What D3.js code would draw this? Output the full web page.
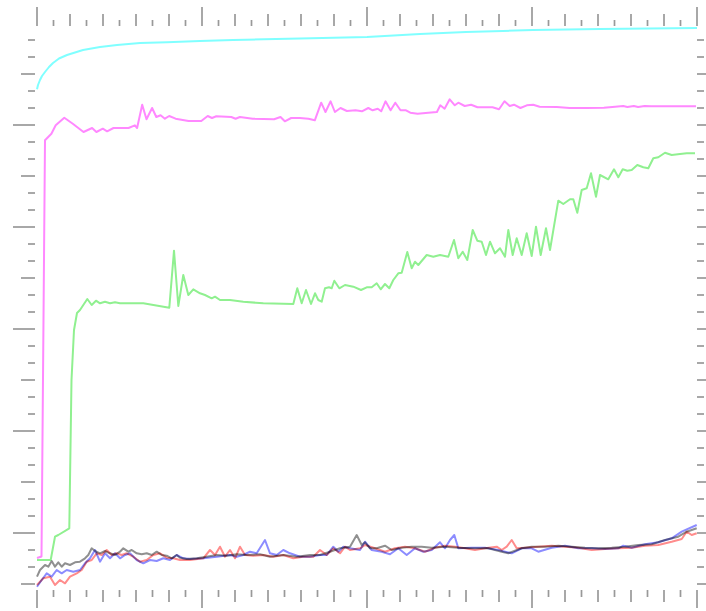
<!DOCTYPE html>
<html>
<head>
<meta charset="utf-8">
<script src="https://cdn.jsdelivr.net/npm/d3@7"></script>
<style>
  body { margin: 0; background: #fff; }
  .series { fill: none; stroke-width: 2; stroke-linejoin: round; mix-blend-mode: multiply; }
  .tick { stroke: #999; stroke-width: 1.7; }
</style>
</head>
<body>
<div id="chart"></div>
<script>
// values as [step, level] pairs
const cyan = [[0,500.7],[1,505],[3,510],[5,514],[8,518],[12,523],[16,527],[22,531.5],[30,535],[46,540],[63,543],[80,545],[103,547],[130,547.7],[163,549],[196,550],[263,551.5],[330,553],[383,556],[429,558],[496,560],[563,561],[660,562]];

const magenta = [[0,32],[4.5,33.5],[8,449.7],[14.4,456.3],[18.7,464.7],[27.3,472.3],[35.8,466.3],[46.5,458],[55.1,462],[59.4,458],[65.8,461.3],[70.1,458.7],[76.5,462],[91.5,462],[97.9,464.7],[100.1,462],[105.2,485.3],[109.5,470.7],[115.1,482],[119.3,473],[123.6,474.7],[127.9,471.3],[132.2,474],[138.6,471.3],[151.5,469],[164.3,469],[170.7,474],[175,472],[179.3,473.7],[194.3,473],[198.6,471.3],[202.9,473],[215.7,471.3],[237.1,470.7],[243.5,473],[247.8,468.7],[254.2,472],[262.8,472],[271.4,471.3],[277.8,469.7],[284.2,487.3],[288.5,478],[293.6,488.7],[297.9,478],[303.5,482],[309.9,479],[318.5,479.7],[324.9,478.7],[331.3,482],[335.6,479.7],[340.8,481.3],[344.2,478.7],[348.5,488.7],[353.6,479.7],[358.3,487.3],[363.5,479.7],[369,479.7],[373.3,477.3],[380.6,476.3],[391.3,477.3],[399.9,478],[403.3,484.7],[407.6,481.3],[412.7,490.7],[417.8,484.7],[421.3,487.3],[427.7,484],[434.1,485.3],[440.5,482.7],[455.5,482.7],[462,480.7],[467.5,488.7],[472.7,484],[477,485.3],[483.4,482],[489.8,484.7],[496.2,485.3],[502.6,483.3],[519.8,483],[532.6,482],[549.7,482],[566.9,482.3],[575.4,483],[586.2,484],[590.4,483],[596.8,484],[601.1,483],[607.6,484],[614,483.7],[635.4,483.7],[659,483.7]];

const green = [[0,30],[13.7,30],[18,53.3],[21.3,55],[32.3,61.7],[34.5,210],[37,260],[40,277],[43,280],[50.3,291],[54.7,285],[59,289.3],[63,286.7],[68,288.3],[73,286.7],[78,287.7],[83,286.7],[106.3,286.7],[132.3,282.3],[137,339.3],[141.3,284],[146.3,315],[151.3,295],[156.3,300.7],[163,296.7],[168,295],[174.7,291.7],[178,293.3],[183,290],[193,290],[206.3,288.3],[226.3,286.7],[256.3,286],[260.3,301.7],[264.7,286.7],[269,300],[274,286],[278,296.7],[281.3,290],[284.7,288.3],[288,301.7],[292,302.7],[294.7,301.7],[297.3,309.3],[302.3,301.7],[308,305],[316.3,303.3],[324,300],[329.7,302.7],[334.7,302.7],[339.7,306.7],[343.7,300.7],[348,306],[352.3,301.7],[356.3,310],[361.3,316.7],[364.7,317.3],[370.3,338],[374.7,321.7],[378,328.3],[381.3,325],[389.7,335],[396.3,333.3],[403,335],[411.3,333.3],[417,350],[421.3,331.7],[425.7,338.3],[430.3,330],[435.7,360],[440.3,349.3],[444.7,348.3],[449,335],[453,348.3],[458,336.7],[463,341.7],[468,333.3],[471.3,360],[475.7,335],[479.7,351.7],[484.7,335],[489.7,356.7],[494.7,334],[499,363.3],[503.7,335],[509,361.7],[513,340],[521.3,389.3],[526.3,386],[533,390.7],[536.3,390.7],[540.3,377.3],[544.7,400],[549.7,401.7],[554,416.7],[559,393.3],[563,415],[571.3,410.7],[577,420.7],[581.3,412.7],[585.7,420.7],[590.3,419.3],[594.7,420],[600.3,425],[606.3,422.7],[611.3,421.7],[616.3,431.7],[621.3,432.7],[628,437.3],[634.7,435],[643,436],[649.7,436.7],[658,436.7]];

const gray = [[0,13.3],[3,20],[8,25],[11.3,23.3],[14.7,29],[18,23.3],[21.3,27.7],[24.7,23.3],[28,26.7],[33,25],[38,27.7],[43,28.3],[48,31.7],[51.3,35],[54.7,41.7],[58,39],[63,36.7],[68,39],[73,36.7],[78,35],[83,38.3],[86.3,41.7],[91.3,38.3],[94.7,40],[99.7,36.7],[104.7,35.7],[109.7,36.7],[114.7,35],[119.7,38.3],[124.7,35],[129.7,34.3],[134.7,31.7],[139.7,35],[143,32.3],[149.7,31],[159.7,31.7],[169.7,33.3],[179.7,35],[189.7,34.3],[199.7,35.7],[209.7,35],[223,35.7],[233,33.3],[246.3,35],[259.7,33.3],[273,35],[283,35],[293,38.3],[303,41.7],[313,43.3],[319.7,55],[324.7,45],[328,47.7],[333,41.7],[339.7,41.7],[348,44.3],[354.7,40],[364.7,42.3],[374.7,43.3],[384.7,43.3],[394.7,42.3],[408,43.3],[421.3,42.3],[434.7,41.7],[451.3,41.7],[464.7,38.3],[471.3,36.7],[484.7,41.7],[494.7,43.3],[508,43.3],[521.3,44.3],[534.7,43.3],[548,42.3],[561.3,41.7],[574.7,42.3],[588,43.3],[601.3,45],[614.7,45.7],[628,50],[641.3,53.3],[649.7,58.3],[659.7,61.7]];

const blue = [[0,3.3],[4.7,10],[9.7,16.7],[14.7,13.3],[19.7,20],[24.7,16.7],[29.7,20],[36.3,18.3],[43,20],[48,26.7],[53,31.7],[58,40],[63,28.3],[68,36.7],[73,31.7],[78,36.7],[83,31.7],[88,35],[93,36.7],[99.7,30],[106.3,26.7],[113,30],[119.7,29],[126.3,31.7],[133,30],[139.7,35],[146.3,31.7],[153,31],[166.3,31.7],[179.7,33.3],[193,35],[199.7,33.3],[206.3,35],[213,38.3],[219.7,36.7],[228,50],[233,36.7],[239.7,35],[246.3,40],[253,36.7],[263,33.3],[273,33.3],[283,35],[289.7,35],[296.3,43.3],[301.3,38.3],[306.3,43.3],[313,41.7],[323,40],[328,48.3],[334.7,40],[344.7,38.3],[353,35.7],[361.3,41.7],[369.7,35],[378,41.7],[386.3,38.3],[394.7,40],[403,47.7],[408,41.7],[413,50],[417.3,55],[421.3,41.7],[434.7,42.3],[448,42.3],[461.3,40],[468,38.3],[474.7,36.7],[484.7,41.7],[494.7,41.7],[501.3,38.3],[514.7,42.3],[528,44.3],[541.3,41.7],[554.7,41.7],[568,41],[581.3,41.7],[586.3,44.3],[594.7,42.3],[608,45.7],[621.3,47.7],[634.7,51.7],[644.7,58.3],[659.7,65]];

const red = [[0,5],[6.3,11.7],[13,13.3],[18,5],[23,10],[28,6.7],[33,13.3],[39.7,16.7],[44.7,20],[49.7,28.3],[54.7,30],[59.7,36.7],[64.7,35],[69.7,40],[74.7,35],[79.7,36.7],[84.7,35],[89.7,36.7],[96.3,33.3],[103,28.3],[109.7,30],[116.3,35],[123,36.7],[129.7,32.3],[136.3,31.7],[143,30],[153,30],[166.3,31.7],[173,40],[178,35],[183,43.3],[188,33.3],[193,40],[198,31.7],[203,43.3],[208,35],[216.3,34.3],[226.3,35],[236.3,33.3],[246.3,35],[256.3,31.7],[266.3,33.3],[276.3,33.3],[283,40],[289.7,35],[296.3,41.7],[303,36.7],[308,43.3],[313,40],[323,41.7],[328,45],[338,41.7],[348,38.3],[358,41.7],[368,43.3],[378,41.7],[388,38.3],[398,42.3],[408,44.3],[418,43.3],[428,41.7],[438,40],[448,41.7],[459.7,43.3],[464.7,40],[469.7,43.3],[474.7,50],[479.7,41.7],[488,42.3],[501.3,43.3],[514.7,44.3],[528,43.3],[541.3,42.3],[554.7,40],[568,41],[581.3,41.7],[594.7,42.3],[608,44.3],[621.3,45],[634.7,48.3],[644.7,51],[649.7,58.3],[654.7,55],[659.7,56.7]];

const seriesList = [
    {name: "cyan", values: cyan, color: "#80ffff"},
    {name: "magenta", values: magenta, color: "#ff88ff"},
    {name: "green", values: green, color: "#90f090"},
    {name: "gray", values: gray, color: "#909090"},
    {name: "blue", values: blue, color: "#8c8cff"},
    {name: "red", values: red, color: "#ff8c8c"}
];

const xTicks = d3.range(0, 661, 16.5);   // long every 10th, medium every 2nd
const yTicks = d3.range(6, 564, 17);     // long at k%6==3, medium at k%6==0

const width = 706;
const height = 611;
const margin = {top: 26, right: 9, bottom: 21, left: 37};
const innerWidth = width - margin.left - margin.right;
const innerHeight = height - margin.top - margin.bottom;

const root = d3.select("#chart")
    .append("svg")
        .attr("width", width)
        .attr("height", height);

// the reference looks slightly soft, so blur everything a touch
root.append("defs").append("filter")
        .attr("id", "soft")
        .attr("x", "-5%").attr("y", "-5%")
        .attr("width", "110%").attr("height", "110%")
    .append("feGaussianBlur")
        .attr("stdDeviation", 0.55);

const svg = root.append("g")
        .attr("transform", "translate(" + margin.left + "," + margin.top + ")")
    .append("g")
        .attr("filter", "url(#soft)");

const xScale = d3.scaleLinear()
    .domain([0, 660])
    .range([0, innerWidth]);

const yScale = d3.scaleLinear()
    .domain([0, 564])
    .range([innerHeight, 0]);

function xLen(i, long, mid, short) {
    return i % 10 == 0 ? long : (i % 2 == 0 ? mid : short);
}
function yLen(i, long, mid, short) {
    return i % 6 == 3 ? long : (i % 6 == 0 ? mid : short);
}

// top ticks
svg.append("g").selectAll("line")
    .data(xTicks)
    .join("line")
        .attr("class", "tick")
        .attr("x1", d => xScale(d)).attr("x2", d => xScale(d))
        .attr("y1", 0)
        .attr("y2", (d, i) => -xLen(i, 19, 12, 6));

// bottom ticks
svg.append("g").selectAll("line")
    .data(xTicks)
    .join("line")
        .attr("class", "tick")
        .attr("x1", d => xScale(d)).attr("x2", d => xScale(d))
        .attr("y1", innerHeight)
        .attr("y2", (d, i) => innerHeight + xLen(i, 18, 12, 7));

// left ticks
svg.append("g").selectAll("line")
    .data(yTicks)
    .join("line")
        .attr("class", "tick")
        .attr("y1", d => yScale(d)).attr("y2", d => yScale(d))
        .attr("x1", -2)
        .attr("x2", (d, i) => -2 - yLen(i, 22, 14, 7));

// right ticks
svg.append("g").selectAll("line")
    .data(yTicks)
    .join("line")
        .attr("class", "tick")
        .attr("y1", d => yScale(d)).attr("y2", d => yScale(d))
        .attr("x1", innerWidth)
        .attr("x2", (d, i) => innerWidth + yLen(i, 22, 14, 7));

const line = d3.line()
    .x(d => xScale(d[0]))
    .y(d => yScale(d[1]));

svg.append("g").selectAll("path")
    .data(seriesList)
    .join("path")
        .attr("class", "series")
        .attr("stroke", d => d.color)
        .attr("d", d => line(d.values));
</script>
</body>
</html>
